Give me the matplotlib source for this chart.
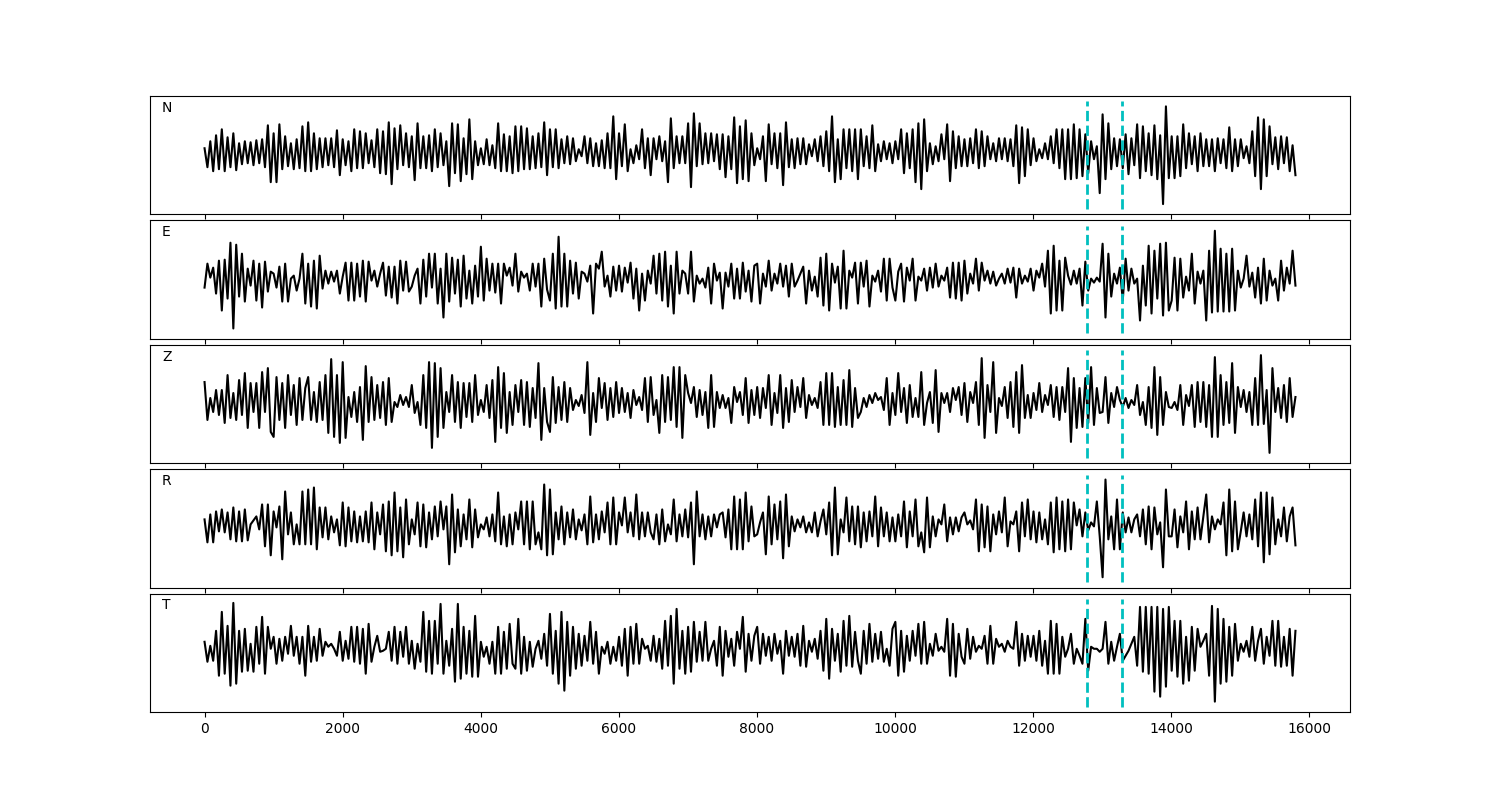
import numpy as np
import matplotlib
matplotlib.use("Agg")
import matplotlib.pyplot as plt

# Trace amplitudes (one row = ~500 samples)
n_samples = 15800
pick_times = [12780, 13285]
pick_half_height = 54
components = ["N", "E", "Z", "R", "T"]

trace_n = [
    7, -12, 14, -16, 20, -14, 26, -16, 18, -12, 22, -15,
    12, -9, 14, -8, 13, -10, 15, -8, 16, -12, 30, -27,
    22, -27, 31, -14, 19, -11, 12, -14, 16, -13, 29, -16,
    33, -16, 22, -14, 17, -12, 17, -10, 17, -12, 25, -20,
    16, -10, 14, -16, 26, -13, 24, -13, 22, -8, 15, -12,
    26, -18, 24, -19, 33, -29, 27, -14, 30, -10, 22, -12,
    19, -25, 32, -13, 19, -13, 20, -16, 26, -12, 22, -10,
    14, -31, 32, -18, 31, -26, 17, -19, 36, -24, 14, -10,
    7, -9, 16, -10, 10, -13, 32, -16, 21, -16, 19, -18,
    29, -16, 29, -14, 27, -14, 19, -13, 22, -12, 33, -20,
    26, -12, 26, -13, 16, -8, 19, -9, 17, -6, 6, -1,
    19, -8, 17, -11, 12, -11, 15, -13, 22, -13, 39, -24,
    22, -11, 31, -16, 6, -8, 10, -4, 26, -13, 17, -20,
    17, -4, 19, -6, 14, -27, 37, -13, 19, -8, 19, -8,
    32, -32, 42, -11, 32, -9, 22, -8, 22, -6, 21, -14,
    21, -22, 19, -14, 38, -28, 29, -24, 35, -26, 22, -10,
    7, -4, 19, -26, 31, -9, 22, -13, 22, -30, 33, -12,
    16, -13, 17, -9, 17, -9, 11, -1, 16, -6, 19, -11,
    24, -16, 39, -27, 16, -24, 26, -13, 26, -16, 26, -24,
    26, -11, 19, -13, 30, -16, 11, -6, 14, -4, 12, -8,
    14, -4, 26, -18, 22, -13, 26, -27, 32, -34, 36, -16,
    12, -9, 9, -6, 21, -4, 31, -26, 24, -13, 19, -11,
    16, -11, 17, -8, 26, -13, 24, -11, 19, -4, 12, -6,
    17, -4, 17, -6, 16, -11, 30, -28, 28, -21, 26, -10,
    17, -6, 6, -3, 12, -4, 19, -8, 26, -13, 26, -24,
    26, -24, 31, -23, 26, -21, 21, -18, 14, -4, 9, -38,
    41, -24, 32, -14, 17, -11, 16, -13, 21, -19, 17, -10,
    31, -23, 29, -16, 22, -20, 30, -24, 20, -49, 49, -23,
    19, -23, 19, -21, 31, -13, 22, -9, 19, -16, 22, -11,
    16, -11, 16, -16, 17, -8, 16, -13, 28, -16, 16, -11,
    16, -3, 9, -8, 24, -21, 38, -34, 36, -21, 29, -9,
    18, -14, 19, -8, 18, -16, 10, -20,
]

trace_e = [
    -8, 16, 2, 12, -14, 19, -31, 20, -19, 37, -49, 35,
    -17, 26, -22, 11, -6, 19, -21, 16, -28, 18, -12, 8,
    6, -8, 13, -22, 16, -22, 1, 4, -11, 1, 26, -24,
    16, -27, 19, -29, 24, -9, 9, -4, 8, -2, 9, -14,
    3, 17, -21, 17, -21, 16, -17, 19, -22, 18, -1, 9,
    -7, 6, 17, -16, 13, -18, 13, -24, 19, -11, 18, -12,
    -7, 4, 11, -24, 20, -17, 26, -8, 26, -24, 11, -38,
    26, -22, 22, -14, 20, -27, 24, -19, 9, -24, 14, -17,
    33, -21, 21, -11, 16, -13, 16, -24, 16, 4, 12, -6,
    26, -12, 8, 2, 6, -11, 16, -7, 16, -27, 21, -10,
    -21, 26, -29, 43, -27, 26, -27, 19, -14, 17, -19, 8,
    6, -2, 14, -34, 16, 11, 28, -7, 4, -17, 13, -11,
    14, -12, 12, -3, 17, -19, 11, -31, 6, -21, 9, -4,
    24, -14, 26, -21, 28, -27, 14, -34, 28, -14, 9, 6,
    -14, 28, -22, 4, -4, 1, -8, 12, -24, 16, -1, 7,
    -29, 7, -7, 16, -19, 11, -19, 17, -12, 9, -22, 14,
    16, -24, 6, -7, 19, -11, 6, -4, 16, -7, 14, -17,
    16, -7, -1, 6, 13, -24, 9, -11, 3, -17, 22, -26,
    26, -31, 16, -3, 13, -29, 29, -29, 9, 2, 17, -24,
    17, -7, 19, -27, 4, -2, 9, -12, 21, -21, 21, -8,
    -21, 8, 16, -22, 12, -1, 21, -21, 3, -1, 11, -11,
    12, -8, 16, -7, 4, -1, 12, -18, 17, -19, 17, -21,
    19, -14, 6, -4, 21, -11, 17, -1, 9, -4, 8, -6,
    1, 6, -4, 11, -3, 12, -18, 11, -4, 4, -2, 11,
    -11, 9, 2, 16, -7, 29, -34, 34, -31, 19, -31, 22,
    4, -5, 9, -4, 11, -26, 18, -11, 1, -3, 2, -2,
    36, -38, 26, -17, 6, -4, 12, -21, 21, -11, 11, -4,
    1, -41, 14, -26, 34, -34, 29, -19, 36, -36, 37, -31,
    -21, 22, -31, 21, -18, 3, -11, 26, -24, 8, -4, 9,
    -41, 29, -33, 49, -32, 31, -32, 26, -32, 31, -31, 9,
    -8, 1, 24, -7, 7, -18, 12, -24, 21, -21, 9, -6,
    1, -21, 19, -11, 12, -4, 29, -6,
]

trace_z = [
    22, -16, 6, -8, 14, -11, 14, -19, 29, -14, 11, -16,
    24, -11, 31, -24, 21, -8, 21, -24, 32, -8, 36, -28,
    -33, 27, -16, 21, -24, 29, -11, 19, -21, 26, -16, 16,
    27, -16, 12, -18, 22, -16, 29, -29, 45, -33, 29, -39,
    42, -34, 7, -13, 12, -18, 17, -36, 38, -18, 27, -16,
    19, -14, 22, -21, 26, -18, 2, -3, 9, -1, 7, -3,
    19, -9, 2, -21, 29, -24, 42, -44, 41, -33, 36, -24,
    12, -8, 29, -18, 22, -24, 21, -13, 21, -18, 29, -11,
    4, -8, 19, -14, 24, -38, 37, -24, 31, -29, 12, -21,
    19, -8, 24, -21, 22, -23, 16, -14, 41, -36, 16, -18,
    -28, 27, -19, 17, -16, 22, -18, 16, -6, 4, -2, 9,
    -9, 42, -31, 11, -18, 26, -4, 21, -16, 16, -13, 22,
    -9, 16, -8, 11, -14, 14, -1, 7, -6, 26, -18, 27,
    -11, 4, -29, 29, -18, 27, -16, 37, -23, 37, -34, 29,
    11, 1, 17, -13, 14, -11, 12, -24, 29, -23, 12, -4,
    9, -4, 6, -19, 17, 2, 12, -11, 26, -19, 14, -11,
    17, -14, 16, -4, 29, -21, 11, -9, 29, -24, 16, -18,
    24, -8, 17, -3, 26, -14, 9, -1, 6, -4, 22, -21,
    31, -21, 31, -23, 17, -21, 24, -21, 34, -23, 16, -14,
    -8, 6, -3, 9, 1, 11, 4, 7, -6, 26, -21, 11,
    -11, 31, -8, 16, -19, 19, -13, 6, -13, 32, -21, 1,
    12, -19, 34, -28, 11, 1, 11, -8, 16, 4, 17, -11,
    21, -18, 12, 1, 22, -21, 46, -34, 19, -8, 42, -29,
    6, -2, 17, -14, 22, -23, 32, -29, 39, -14, 9, -14,
    11, -6, 21, -8, 9, -1, 19, -13, 17, -16, 17, -8,
    36, -38, 26, -24, 16, -23, 26, -19, 37, -21, 16, -9,
    -8, 27, -19, 11, -3, 17, 4, -3, 6, -4, 4, -1,
    19, -11, 2, -21, 17, -24, 37, -31, 27, -21, 12, -3,
    -4, 2, -6, 19, -21, 9, -2, 19, -23, 22, -18, 22,
    -23, 19, -33, 47, -33, 29, -21, 22, -19, 41, -29, 17,
    -3, 14, -8, 12, -21, 26, -21, 49, -20, 14, -49, 36,
    -8, 16, -14, 19, -18, 26, -13, 7,
]

trace_r = [
    9, -14, 14, -14, 17, -3, 19, -4, 16, -11, 21, -13,
    17, -13, 19, -12, 4, 8, 12, -1, 24, -18, 24, -27,
    17, 1, 22, -31, 37, -6, 16, -16, 4, -16, 37, -16,
    39, -16, 41, -21, 21, -9, 21, -11, 12, -4, 9, -17,
    26, -18, 21, -13, 17, -14, 12, -13, 17, -14, 26, -21,
    16, -6, 24, -23, 27, -27, 36, -23, 21, -29, 29, -16,
    9, -6, 26, -18, 24, -19, 16, -11, 22, -8, 27, -1,
    22, -36, 34, -24, 19, -18, 14, -11, 29, -19, 19, -9,
    4, -1, 11, -8, 14, -13, 36, -16, 12, -18, 14, -16,
    16, -1, 27, -16, 27, -21, 27, -16, -4, -21, 44, -27,
    39, -26, 16, -11, 22, -16, 16, -9, 19, -11, 9, -2,
    14, -16, 32, -14, 14, -11, 17, -4, 26, -16, 31, -16,
    16, 3, 31, -4, 16, -8, 34, -11, 16, -8, 16, -4,
    -11, 14, -16, 19, -13, 4, -6, 29, -13, 14, -8, 19,
    -9, 26, -36, 37, -8, 14, -11, 12, -8, 14, 1, 14,
    16, -9, 19, -21, 32, -21, 29, -21, 36, -13, 22, -8,
    -6, 6, 16, -26, 32, -16, 24, -11, 27, -30, 34, -18,
    12, -3, 9, 1, 12, -4, 6, -4, 16, -8, 7, 19,
    -6, 26, -27, 41, -26, 9, -4, 31, -13, 22, -16, 22,
    -19, 16, -13, 17, -8, 32, -18, 21, -8, 16, -13, 11,
    -13, 14, -8, 27, -19, 17, -8, 29, -18, -4, -24, 31,
    -19, 12, -8, 9, 4, 24, -13, 11, -6, 11, -3, 11,
    16, 4, 8, -1, 29, -23, 24, -19, 22, -23, 14, -6,
    17, -4, 31, -18, 7, 4, 17, -23, 26, -8, 29, -11,
    17, -14, 16, -11, 9, -16, 26, -24, 31, -21, 27, -23,
    29, -21, 26, 3, 19, -8, 16, -2, 6, 2, 27, -8,
    -49, 49, -11, 12, -21, 29, -21, 16, -4, 11, -4, 9,
    14, -8, 19, -16, 22, -21, 21, -6, 6, -39, 39, -8,
    -8, 19, -19, 12, -4, 27, -21, 17, -11, 21, -11, 12,
    34, -14, 12, -1, 9, 4, 26, -27, 39, -23, 27, -21,
    -3, 16, -8, 14, -11, 29, -18, 36, -34, 36, -26, 31,
    -16, 9, -8, 21, -13, 12, 21, -17,
]

trace_t = [
    11, -9, 7, -8, 22, -23, 41, -21, 27, -33, 50, -31,
    22, -19, 24, -18, 9, -19, 26, -11, 36, -21, 26, 4,
    16, -11, 14, -8, 16, -1, 27, -3, 16, -11, 16, -23,
    27, -9, 16, -8, 24, -3, 11, 6, 9, 4, -3, 21,
    -8, 12, -6, 26, -9, 26, -11, 24, -21, 29, -9, 6,
    17, 1, 2, 4, 21, -8, 26, -11, 21, -4, 26, -11,
    12, -16, 9, -9, 41, -19, 32, -21, 32, -11, 49, -21,
    12, -13, 24, -29, 49, -26, 26, -21, 22, -24, 37, -24,
    11, -4, 6, -11, 11, -21, 26, -21, 21, -16, 29, -11,
    -16, 34, -21, 16, -18, 11, -14, 4, 12, -6, 19, -13,
    39, -21, 22, -31, 41, -38, 31, -23, 26, -16, 19, -13,
    17, -8, 31, -11, 21, -21, 6, -1, 11, -11, 6, -8,
    16, -13, 24, -23, 26, -11, 29, -11, 14, 4, 7, -8,
    17, -9, 14, -16, 32, -13, 37, -31, 44, -16, 22, -21,
    26, -19, 31, -9, 21, -8, 31, -8, 4, 12, -13, 26,
    -23, 22, -4, 14, -13, 21, 4, 36, -19, 19, -8, 17,
    26, -11, 19, -3, 16, -8, 19, -1, 12, -21, 22, -3,
    16, -4, 19, -13, 27, -14, 12, 1, 14, -6, 22, -18,
    34, -26, 24, -8, 19, -19, 32, -13, 37, -14, 21, -8,
    -21, 22, -11, 29, -9, 19, -6, 21, -9, 4, -13, 24,
    31, -23, 22, -19, 17, -8, 22, -3, 29, -11, 31, -11,
    9, -3, 19, 2, 6, 1, 34, -23, 29, -24, 19, -4,
    -11, 24, -6, 16, 1, 7, 4, 17, -11, 27, -11, 14,
    6, 9, 1, 12, 6, 4, 31, -13, 19, -8, 17, -4,
    17, -8, 22, -13, 12, -21, 32, -21, 29, -21, 16, -4,
    4, 19, -11, 4, -3, -11, 34, -18, 6, 4, 4, 1,
    4, 31, -11, 11, -8, 6, 19, -8, -3, 2, 9, 16,
    -13, 46, -19, 46, -21, 46, -39, 46, -44, 44, -34, 46,
    -18, 32, -24, 32, -31, 16, -28, 26, -18, 24, 6, 12,
    19, -23, 47, -49, 44, -31, 34, -29, 26, -23, 29, -8,
    9, 1, 12, -4, 26, -8, 12, 24, -11, 16, -3, 32,
    -13, 32, -14, 16, -13, 24, -23, 22,
]


def main():
    traces = [trace_n, trace_e, trace_z, trace_r, trace_t]

    fig, axes = plt.subplots(5, 1, figsize=(15, 8), sharex=True)
    fig.subplots_adjust(left=0.1, right=0.9, top=0.88, bottom=0.11, hspace=0.05)

    for ax, name, trace in zip(axes, components, traces):
        t = np.linspace(0, n_samples, len(trace))
        ax.plot(t, trace, color='black', linewidth=1.5)
        # picked phase window
        ax.vlines(pick_times, -pick_half_height, pick_half_height,
                  colors='c', linestyles='dashed', linewidth=2)
        ax.set_yticks([])
        ax.text(0.01, 0.9, name, transform=ax.transAxes, va='center', ha='left')

    fig.savefig('out.png', dpi=100)
    plt.close(fig)


if __name__ == "__main__":
    main()
